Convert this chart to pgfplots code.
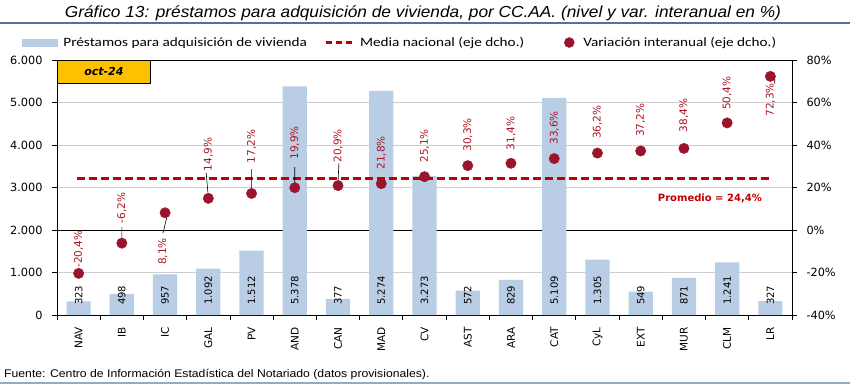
\documentclass[border=0pt]{standalone}
\usepackage{pgfplots}
\usepackage{pgfplotstable}
\pgfplotsset{compat=1.18}
\usepackage{fontspec}
\setmainfont{DejaVu Sans}
\newfontfamily\titlefont[FakeStretch=1.08]{Liberation Sans}
\newfontfamily\srcfont[FakeStretch=1.1]{Liberation Sans}
\newfontfamily\legfont[FakeStretch=1.2]{Carlito}
\definecolor{barblue}{RGB}{185,205,229}
\definecolor{mkred}{RGB}{155,20,45}
\definecolor{lnred}{RGB}{192,0,0}
\definecolor{lblred}{RGB}{175,20,35}
\definecolor{ruleblue}{RGB}{79,113,165}
\definecolor{gridgray}{RGB}{205,205,205}
\definecolor{boxyellow}{RGB}{255,192,0}

\pgfplotstableread{
x v z lab
0 323 0 323
1 498 0 498
2 957 0 957
3 1092 0 1.092
4 1512 0 1.512
5 5378 0 5.378
6 377 0 377
7 5274 0 5.274
8 3273 0 3.273
9 572 0 572
10 829 0 829
11 5109 0 5.109
12 1305 0 1.305
13 549 0 549
14 871 0 871
15 1241 0 1.241
16 327 0 327
}\bars

\pgfplotstableread{
x var
0 -20.4
1 -6.2
2 8.1
3 14.9
4 17.2
5 19.9
6 20.9
7 21.8
8 25.1
9 30.3
10 31.4
11 33.6
12 36.2
13 37.2
14 38.4
15 50.4
16 72.3
}\vari

\pgfplotstableread{
x y lab
0 -17.8 -20,4\%
1 3.2 -6,2\%
3 27.6 14,9\%
4 31.3 17,2\%
5 33.1 19,9\%
6 31.7 20,9\%
7 28.4 21,8\%
8 31.7 25,1\%
9 36.9 30,3\%
10 37.5 31,4\%
11 40.2 33,6\%
12 42.8 36,2\%
13 43.8 37,2\%
14 45.9 38,4\%
15 56.5 50,4\%
}\labup

\pgfplotstableread{
x y lab
1.95 -3.7 8,1\%
16 69.2 72,3\%
}\labdn

\begin{document}
\begin{tikzpicture}
\path[use as bounding box] (0pt,0pt) rectangle (850pt,386pt);
\fill[white] (0pt,0pt) rectangle (850pt,386pt);
\node[font=\titlefont\itshape\fontsize{16}{19}\selectfont, anchor=base, inner sep=0pt] at (423pt,368.7pt) {Gráfico 13: préstamos para adquisición de vivienda, por CC.AA. (nivel y var. interanual en \%)};
\draw[ruleblue, line width=2pt] (0pt,363pt) -- (850pt,363pt);
\draw[ruleblue!60, line width=2pt] (0pt,3pt) -- (850pt,3pt);
\node[font=\srcfont\fontsize{11.1}{13}\selectfont, anchor=base west, inner sep=0pt] at (4pt,9pt) {Fuente: Centro de Información Estadística del Notariado (datos provisionales).};

\begin{axis}[
  at={(57pt,71pt)}, anchor=south west, scale only axis, width=735pt, height=255pt,
  xmin=-0.5, xmax=16.5, ymin=0, ymax=6000,
  axis line style={black, line width=0.8pt},
  xtick pos=bottom, ytick pos=left, tick align=outside,
  xtick={0,...,16},
  xticklabels={NAV,IB,IC,GAL,PV,AND,CAN,MAD,CV,AST,ARA,CAT,CyL,EXT,MUR,CLM,LR},
  major x tick style={draw=none},
  minor xtick={-0.5,0.5,...,16.5},
  minor x tick style={black, line width=0.8pt},
  minor tick length=5pt, major tick length=5pt,
  ytick={0,1000,...,6000},
  yticklabels={0,1.000,2.000,3.000,4.000,5.000,6.000},
  ymajorgrids, major grid style={gridgray, line width=0.8pt},
  extra y ticks={2000}, extra y tick labels={},
  extra y tick style={major grid style={black, line width=1pt}},
  tick style={black, line width=0.8pt},
  xticklabel shift=7pt,
  xticklabel style={rotate=90, anchor=east, font=\fontsize{10.5}{12}\selectfont, inner sep=0pt},
  yticklabel style={font=\fontsize{11.3}{13}\selectfont, xshift=-6pt},
]
\addplot[ybar, bar width=0.56, fill=barblue, draw=none, bar shift=0pt, forget plot] table[x=x, y=v] \bars;
\addplot[draw=none, mark=none, forget plot, nodes near coords, point meta=explicit symbolic,
  nodes near coords style={font=\fontsize{10}{12}\selectfont, black, inner sep=0pt, yshift=10pt, rotate=90, anchor=west}]
  table[x=x, y=z, meta=lab] \bars;
\end{axis}

\begin{axis}[
  at={(57pt,71pt)}, anchor=south west, scale only axis, width=735pt, height=255pt,
  xmin=-0.5, xmax=16.5, ymin=-40, ymax=80,
  axis x line=none, axis y line*=right,
  axis line style={black, line width=0.8pt},
  tick align=outside, major tick length=5pt, tick style={black, line width=0.8pt},
  ytick={-40,-20,...,80},
  yticklabels={-40\%,-20\%,0\%,20\%,40\%,60\%,80\%},
  yticklabel style={font=\fontsize{11.3}{13}\selectfont, xshift=6pt},
  clip=false,
  legend columns=3,
  legend style={at={(-0.0476,1.0686)}, anchor=west, draw=none, fill=none, inner sep=0pt, outer sep=0pt,
    font=\legfont\fontsize{12.7}{14}\selectfont, nodes={inner sep=0pt},
    /tikz/column 1/.style={column sep=6pt},
    /tikz/column 2/.style={column sep=17pt},
    /tikz/column 3/.style={column sep=6pt},
    /tikz/column 4/.style={column sep=40pt},
    /tikz/column 5/.style={column sep=9pt}},
]
\addlegendimage{legend image code/.code={\fill[barblue] (0pt,-3.5pt) rectangle (35pt,3.5pt);}}
\addlegendentry{Préstamos para adquisición de vivienda}
\addlegendimage{legend image code/.code={\draw[lnred, line width=3pt, dash pattern=on 6.5pt off 3.5pt] (0pt,0pt) -- (27pt,0pt);}}
\addlegendentry{Media nacional (eje dcho.)}
\addlegendimage{only marks, mark=*, mark size=5pt, mkred, mark options={fill=mkred, draw=mkred}}
\addlegendentry{Variación interanual (eje dcho.)}

\addplot[lnred, line width=3pt, dash pattern=on 8pt off 4pt, forget plot] coordinates {(-0.03,24.4) (16.03,24.4)};
\addplot[black, line width=0.6pt, forget plot, unbounded coords=jump] coordinates {
(1,1.4) (1,-3.8) (1,nan)
(2.04,5.8) (1.95,-1.5) (2,nan)
(2.95,27.0) (2.99,17.6) (3,nan)
(4,28.7) (4,19.8) (4,nan)
(5,29.6) (5,21.2) (5,nan)
(6.02,31.5) (6,22.1) (6,nan)
(16.1,71.3) (16.1,68.9)
};
\addplot[only marks, mark=*, mark size=5.2pt, mkred, mark options={fill=mkred, draw=mkred}, forget plot] table[x=x, y=var] \vari;
\addplot[draw=none, mark=none, forget plot, nodes near coords, point meta=explicit symbolic,
  nodes near coords style={font=\fontsize{10.5}{12}\selectfont, text=lblred, inner sep=0pt, rotate=90, anchor=west}]
  table[x=x, y=y, meta=lab] \labup;
\addplot[draw=none, mark=none, forget plot, nodes near coords, point meta=explicit symbolic,
  nodes near coords style={font=\fontsize{10.5}{12}\selectfont, text=lblred, inner sep=0pt, rotate=90, anchor=east}]
  table[x=x, y=y, meta=lab] \labdn;
\node[font=\bfseries\fontsize{10}{12}\selectfont, text=lnred] at (axis cs:14.6,15.1) {Promedio = 24,4\%};
\end{axis}

\node[draw=black, line width=0.8pt, fill=boxyellow, minimum width=93pt, minimum height=23pt, anchor=north west, inner sep=0pt, font=\bfseries\itshape\fontsize{11}{13}\selectfont] at (57pt,326pt) {oct-24};
\end{tikzpicture}
\end{document}
